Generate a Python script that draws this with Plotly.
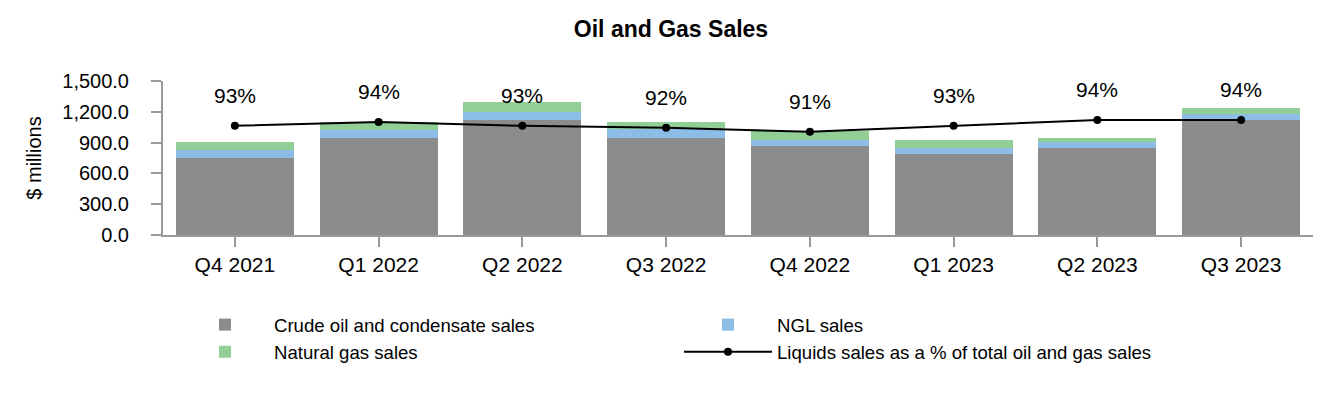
import plotly.graph_objects as go

quarters = ["Q4 2021", "Q1 2022", "Q2 2022", "Q3 2022", "Q4 2022", "Q1 2023", "Q2 2023", "Q3 2023"]
crude_oil = [753, 944, 1118, 944, 866, 789, 847, 1118]
ngl = [75, 77, 78, 84, 58, 58, 58, 58]
natural_gas = [77, 78, 96, 71, 91, 77, 39, 58]
liquids_pct = [92.6, 93.6, 92.6, 92.1, 91.1, 92.6, 94.1, 94.1]
y_ticks = [0, 300, 600, 900, 1200, 1500]

FONT = "Arial, Liberation Sans, sans-serif"
AXIS_COLOR = "#999999"
W, H = 1326, 392  # page body has an 8px margin

fig = go.Figure()
fig.add_trace(go.Bar(x=quarters, y=crude_oil, name="Crude oil and condensate sales",
                     marker=dict(color="#8c8c8c", line=dict(width=0))))
fig.add_trace(go.Bar(x=quarters, y=ngl, name="NGL sales",
                     marker=dict(color="#8cbde6", line=dict(width=0))))
fig.add_trace(go.Bar(x=quarters, y=natural_gas, name="Natural gas sales",
                     marker=dict(color="#91cf96", line=dict(width=0))))
fig.add_trace(go.Scatter(x=quarters, y=liquids_pct, yaxis="y2", mode="lines+markers",
                         name="Liquids sales as a % of total oil and gas sales",
                         line=dict(color="black", width=2),
                         marker=dict(color="black", size=8)))

for q, p in zip(quarters, liquids_pct):
    fig.add_annotation(x=q, y=p, yref="y2", text=f"{round(p)}%", showarrow=False,
                       yshift=30, font=dict(family=FONT, size=21, color="black"))

fig.update_layout(
    width=W, height=H,
    margin=dict(l=155, r=21, t=72.5, b=164.5, autoexpand=False),
    barmode="stack", bargap=0.18,
    paper_bgcolor="white", plot_bgcolor="white",
    font=dict(family=FONT, color="black"),
    title=dict(text="<b>Oil and Gas Sales</b>", x=0.5, xref="container", xanchor="center",
               y=1 - 21 / H, yref="container", yanchor="middle",
               font=dict(family=FONT, size=23, color="black")),
    xaxis=dict(showline=True, linecolor=AXIS_COLOR, linewidth=2, ticks="outside",
               ticklen=10, tickwidth=2, tickcolor=AXIS_COLOR, showgrid=False, automargin=False,
               tickfont=dict(family=FONT, size=21, color="black")),
    yaxis=dict(range=[0, 1500], tickvals=y_ticks, tickformat=",.1f", showline=True,
               linecolor=AXIS_COLOR, linewidth=2, ticks="outside", ticklen=10, tickwidth=2,
               tickcolor=AXIS_COLOR, showgrid=False, zeroline=False, ticklabelstandoff=18,
               automargin=False,
               tickfont=dict(family=FONT, size=20, color="black"),
               title=dict(text="$ millions", font=dict(family=FONT, size=20, color="black"),
                          standoff=15)),
    yaxis2=dict(range=[65.1, 103.9], overlaying="y", visible=False),
    legend=dict(orientation="h", xref="container", yref="container",
                x=168 / W, xanchor="left", y=1 - 298 / H, yanchor="top",
                entrywidth=400, entrywidthmode="pixels", itemwidth=88,
                font=dict(family=FONT, size=18.6, color="black"), traceorder="normal"),
    showlegend=True,
)

fig.write_html("out.html")
